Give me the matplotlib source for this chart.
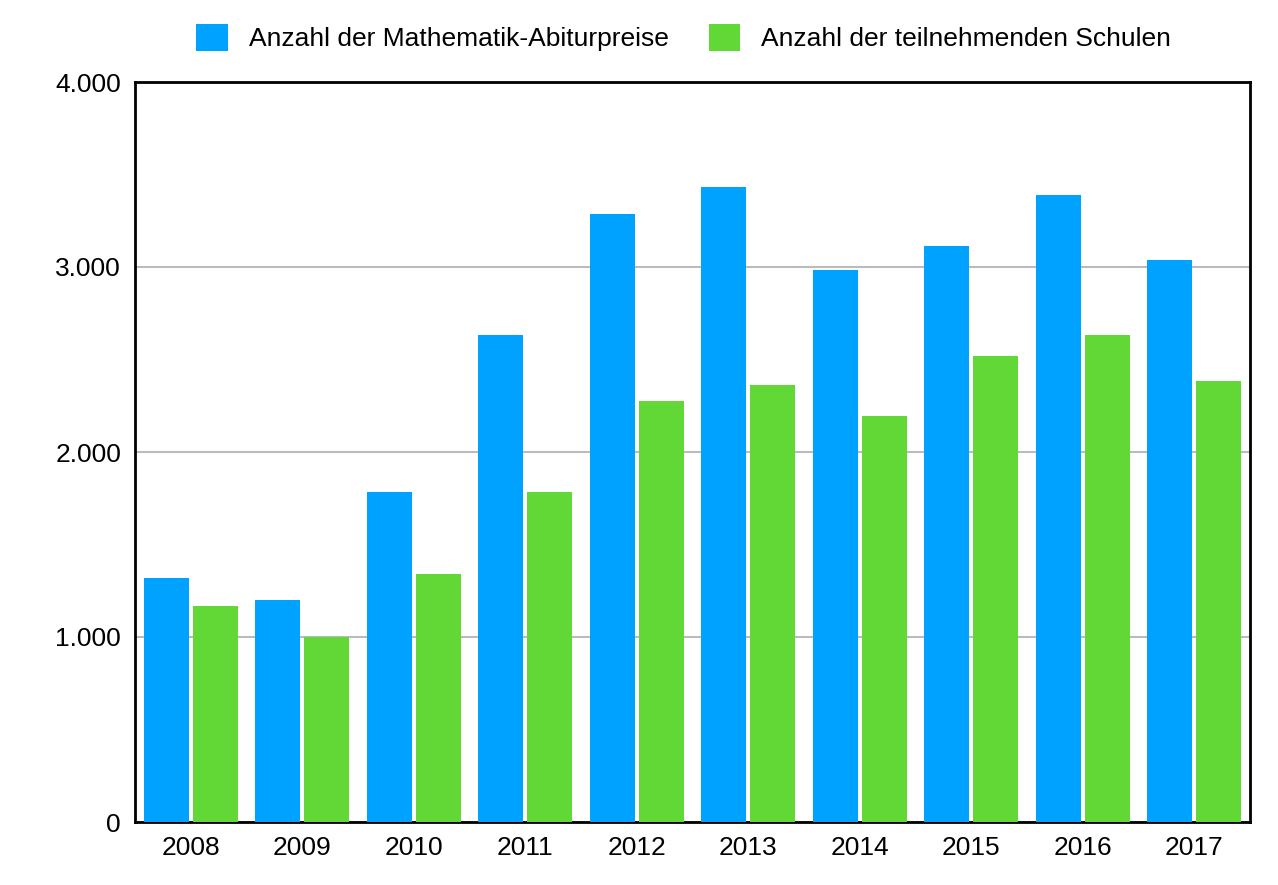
import matplotlib
matplotlib.use("Agg")
import matplotlib.pyplot as plt
import numpy as np

plt.rcParams["font.family"] = "Liberation Sans"

years = ["2008","2009","2010","2011","2012","2013","2014","2015","2016","2017"]
preise = [1319,1200,1784,2632,3286,3432,2984,3114,3389,3038]
schulen = [1168,1000,1341,1784,2276,2362,2195,2519,2632,2384]
yticks = [0,1000,2000,3000,4000]
ylabels = ["0","1.000","2.000","3.000","4.000"]

fig = plt.figure(figsize=(12.78,8.85), dpi=100)
ax = fig.add_axes([135/1278, 1-822/885, (1250-135)/1278, (822-82)/885])
x = np.arange(len(years))
w = 0.4
ax.bar(x-0.22, preise, w, color="#00a2ff", label="Anzahl der Mathematik-Abiturpreise", zorder=3)
ax.bar(x+0.22, schulen, w, color="#61d836", label="Anzahl der teilnehmenden Schulen", zorder=3)
ax.set_xlim(-0.5, len(years)-0.5)
ax.set_ylim(0, 4000)
ax.set_yticks(yticks)
ax.set_yticklabels(ylabels, fontsize=19)
ax.set_xticks(x)
ax.set_xticklabels(years, fontsize=19)
ax.tick_params(length=0, pad=10)
ax.yaxis.grid(True, color="#bbbbbb", linewidth=1.5, zorder=0)
for s in ax.spines.values():
    s.set_linewidth(2)
fig.legend(loc="upper center", bbox_to_anchor=(0.535, 1.0), ncol=2, frameon=False,
           fontsize=19, handlelength=1.2, handleheight=1.2, columnspacing=1.5)
fig.savefig("out.png", dpi=100)
